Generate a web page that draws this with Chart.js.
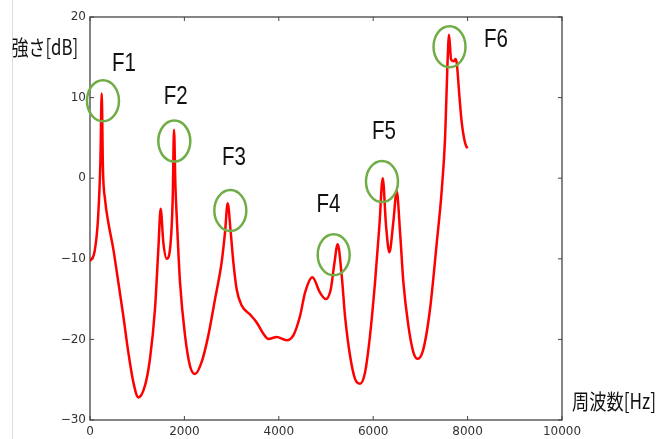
<!DOCTYPE html>
<html>
<head>
<meta charset="utf-8">
<script src="https://cdn.jsdelivr.net/npm/chart.js@4"></script>
<style>
  html, body { margin: 0; padding: 0; background: #fff; }
  #wrap { width: 662px; height: 439px; }
</style>
</head>
<body>
<div id="wrap"><canvas id="chart" width="662" height="439"></canvas></div>
<script>
// spectrum: frequency [Hz] and level [dB]
const freqs = [0, 100, 170, 220, 248, 275, 318, 388, 494, 600, 706, 812, 918, 1024, 1166, 1271, 1377, 1448, 1497,
  1554, 1625, 1695, 1752, 1780, 1810, 1837, 1907, 2013, 2119, 2225, 2366, 2507, 2649, 2790, 2861, 2917, 2981,
  3037, 3108, 3214, 3390, 3532, 3673, 3779, 3955, 4167, 4308, 4450, 4556, 4711, 4874, 4994, 5100, 5170, 5248,
  5333, 5403, 5509, 5615, 5721, 5827, 5933, 6039, 6131, 6202, 6272, 6343, 6427, 6498, 6569, 6639, 6745, 6851,
  6944, 7063, 7205, 7347, 7452, 7523, 7572, 7607, 7650, 7713, 7741, 7770, 7826, 7876, 7946, 7995];
const levels = [-10.3, -9, -5, 2, 10.5, 1, -2.6, -5.5, -8.8, -12.9, -17.1, -21.6, -25.3, -27.2, -25.7, -22.4, -16.2, -8.8, -3.8,
  -8.0, -10.0, -8.8, -2.6, 6.0, -1, -4.7, -12.9, -19.5, -23.3, -24.3, -22.8, -19.5, -15.0, -10.4, -6.7, -3.1, -6.7,
  -10.4, -13.8, -15.8, -16.9, -17.9, -19.3, -19.95, -19.7, -20.1, -19.5, -17.1, -14.2, -12.3, -14.2, -15.0, -13.8, -10.9, -8.2,
  -12.1, -17.1, -22.0, -24.9, -25.5, -24.1, -19.5, -12.9, -5.9, 0.0, -5.9, -9.2, -5.4, -1.6, -6.7, -12.9, -18.3, -21.6,
  -22.4, -21.2, -16.2, -8.0, -1.5, 5.0, 13.9, 17.8, 14.7, 14.5, 14.8, 14.3, 10.2, 6.9, 4.4, 3.7];

// formant markers (circle centres) and their labels
const formantNames = ["F1", "F2", "F3", "F4", "F5", "F6"];
const circleFreq = [275, 1786, 2973, 5163, 6186, 7617];
const circleDb = [9.6, 4.6, -4.0, -9.5, -0.4, 16.3];
const labelFreq = [720, 1816, 3051, 5053, 6229, 8602];
const labelDb = [14.2, 10.0, 2.5, -3.3, 5.7, 17.1];

const xTitle = "周波数[Hz]";
const yTitle = "強さ[dB]";

const points = freqs.map((f, i) => ({ x: f, y: levels[i] }));

function squishText(ctx, text, x, y, font, sx) {
  ctx.save();
  ctx.font = font;
  ctx.fillStyle = "#111";
  ctx.textAlign = "center";
  ctx.textBaseline = "middle";
  ctx.translate(x, y);
  ctx.scale(sx, 1);
  ctx.fillText(text, 0, 0);
  ctx.restore();
}

const frame = {
  id: "frame",
  beforeDatasetsDraw(chart) {
    const { ctx, chartArea: a, scales } = chart;
    ctx.save();
    // faint line at far left of the picture
    ctx.strokeStyle = "#dedede";
    ctx.lineWidth = 1;
    ctx.beginPath();
    ctx.moveTo(12.5, 0);
    ctx.lineTo(12.5, 439);
    ctx.stroke();

    ctx.strokeStyle = "#444";
    ctx.lineWidth = 1.3;
    ctx.strokeRect(a.left, a.top, a.right - a.left, a.bottom - a.top);
    ctx.lineWidth = 1;
    ctx.beginPath();
    scales.x.ticks.forEach(t => {
      const px = scales.x.getPixelForValue(t.value);
      ctx.moveTo(px, a.bottom); ctx.lineTo(px, a.bottom - 4);
      ctx.moveTo(px, a.top); ctx.lineTo(px, a.top + 4);
    });
    scales.y.ticks.forEach(t => {
      const py = scales.y.getPixelForValue(t.value);
      ctx.moveTo(a.left, py); ctx.lineTo(a.left + 4, py);
      ctx.moveTo(a.right, py); ctx.lineTo(a.right - 4, py);
    });
    ctx.stroke();
    ctx.restore();
  },
  afterDraw(chart) {
    const { ctx, scales } = chart;
    ctx.save();
    ctx.strokeStyle = "#70ad47";
    ctx.lineWidth = 2.5;
    circleFreq.forEach((f, i) => {
      const cx = scales.x.getPixelForValue(f);
      const cy = scales.y.getPixelForValue(circleDb[i]);
      ctx.beginPath();
      ctx.ellipse(cx, cy, 16, 20.5, 0, 0, Math.PI * 2);
      ctx.stroke();
    });
    ctx.restore();
    formantNames.forEach((n, i) => {
      squishText(ctx, n, scales.x.getPixelForValue(labelFreq[i]), scales.y.getPixelForValue(labelDb[i]),
        "25px 'Liberation Sans', Arial, sans-serif", 0.82);
    });
    squishText(ctx, yTitle, 45, 47, "21px 'Noto Sans CJK JP', sans-serif", 0.8);
    squishText(ctx, xTitle, 614, 401, "21px 'Noto Sans CJK JP', sans-serif", 0.82);
  }
};

const ctx = document.getElementById("chart").getContext("2d");
new Chart(ctx, {
  type: "line",
  data: {
    datasets: [{
      data: points,
      borderColor: "#ff0000",
      borderWidth: 2.5,
      pointRadius: 0,
      fill: false,
      cubicInterpolationMode: "monotone",
    }],
  },
  options: {
    responsive: false,
    animation: false,
    layout: { padding: { left: 0, top: 17, right: 100, bottom: 0 } },
    plugins: { legend: { display: false }, tooltip: { enabled: false } },
    scales: {
      x: {
        type: "linear",
        min: 0, max: 10000,
        grid: { display: false, drawTicks: false },
        border: { display: false },
        ticks: {
          stepSize: 2000, padding: 5, color: "#333", maxRotation: 0,
          font: { family: "'DejaVu Sans'", size: 12 },
          callback: v => String(v),
        },
        afterFit(scale) { scale.height = 19; },
      },
      y: {
        min: -30, max: 20,
        grid: { display: false, drawTicks: false },
        border: { display: false },
        ticks: {
          stepSize: 10, padding: 4, color: "#333",
          font: { family: "'DejaVu Sans'", size: 12 },
          callback: v => String(v).replace("-", "\u2212"),
        },
        afterFit(scale) { scale.width = 90; },
      },
    },
  },
  plugins: [frame],
});
</script>
</body>
</html>
